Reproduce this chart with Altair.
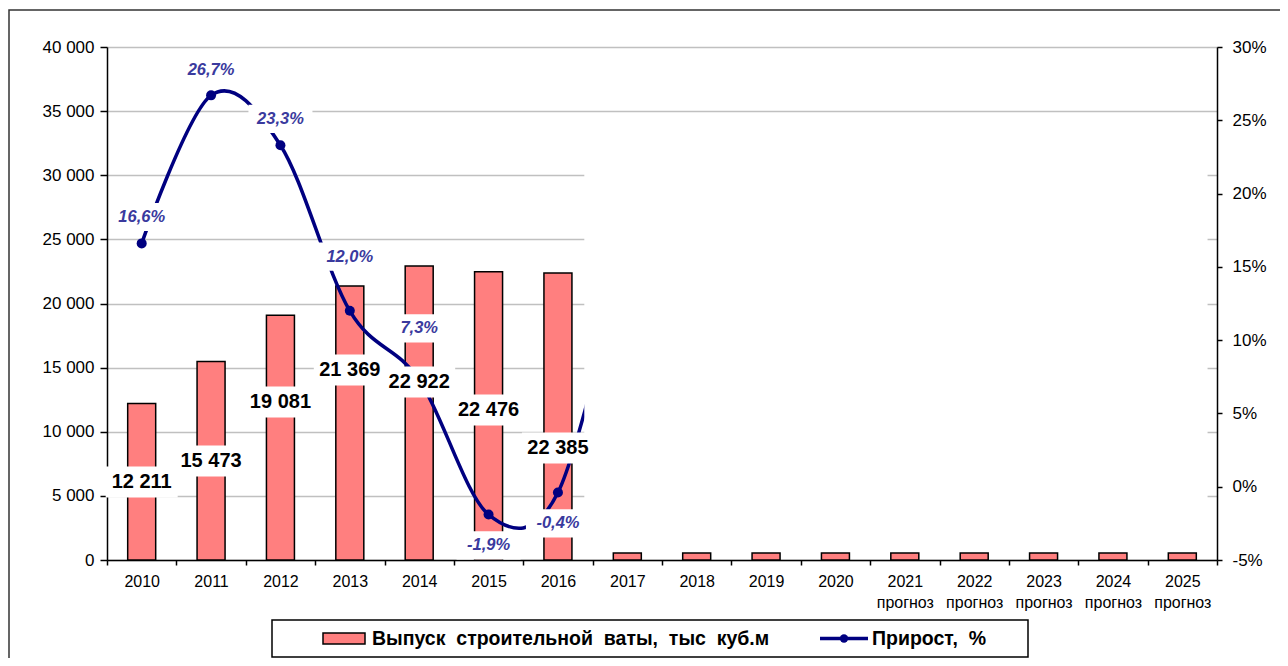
import altair as alt
import pandas as pd

# ---------------- data ----------------
years = ["2010", "2011", "2012", "2013", "2014", "2015", "2016", "2017",
         "2018", "2019", "2020", "2021", "2022", "2023", "2024", "2025"]
forecast_years = ["2021", "2022", "2023", "2024", "2025"]
volume = [12211, 15473, 19081, 21369, 22922, 22476, 22385,
          550, 550, 550, 550, 550, 550, 550, 550, 550]
labelled_years = ["2010", "2011", "2012", "2013", "2014", "2015", "2016"]
labelled_volume = [12211, 15473, 19081, 21369, 22922, 22476, 22385]
growth = [16.6, 26.7, 23.3, 12.0, 7.3, -1.9, -0.4]
# 2017 growth is hidden in the picture; estimated from the visible stub of the line
line_years = ["2010", "2011", "2012", "2013", "2014", "2015", "2016", "2017"]
line_growth = [16.6, 26.7, 23.3, 12.0, 7.3, -1.9, -0.4, 17.0]
# where the labels sit (data units)
volume_label_anchor = [6080, 7720, 12320, 14815, 13880, 11700, 8730]
growth_label_anchor = [18.4, 28.4, 25.1, 15.7, 10.8, -4.0, -2.5]

bar_series = "Выпуск\u00a0 строительной\u00a0 ваты,\u00a0 тыс\u00a0 куб.м"
line_series = "Прирост,\u00a0 %"

vol_ticks = [0, 5000, 10000, 15000, 20000, 25000, 30000, 35000, 40000]
pct_ticks = [-5, 0, 5, 10, 15, 20, 25, 30]

# ---------------- layout / style ----------------
W, H = 1110, 513
FONT = "Liberation Sans"
BAR_FILL = "#FF7F7F"
NAVY = "#000080"
PCT_COLOR = "#3A3A9E"
GRID = "#C0C0C0"

df_bars = pd.DataFrame({"year": years, "volume": volume})
df_vlab = pd.DataFrame({"year": labelled_years, "volume": labelled_volume,
                        "anchor": volume_label_anchor})
df_growth = pd.DataFrame({"year": labelled_years, "growth": growth,
                          "anchor": growth_label_anchor})
df_line = pd.DataFrame({"year": line_years, "growth": line_growth})

fc_expr = "indexof(" + str(forecast_years) + ", datum.value) >= 0 ? [datum.value, 'прогноз'] : datum.value"

x_enc = alt.X(
    "year:N",
    sort=years,
    scale=alt.Scale(domain=years, paddingInner=0, paddingOuter=0),
    axis=alt.Axis(
        title=None, labelAngle=0, tickBand="extent", grid=False,
        domainColor="black", domainWidth=1.5, tickColor="black", tickWidth=1.5,
        tickSize=5, labelPadding=8, labelFont=FONT, labelFontSize=16,
        labelColor="black", labelLineHeight=21, labelExpr=fc_expr,
    ),
)

vol_scale = alt.Scale(domain=[0, 40000], nice=False, zero=True)
pct_scale = alt.Scale(domain=[-5, 30], nice=False, zero=False)

# decorative white mask over the empty forecast area
mask = alt.Chart(pd.DataFrame({"k": [0]})).mark_rect(fill="white", stroke=None).encode(
    x=alt.value(W * 0.43), x2=alt.value(W * 0.9915),
    y=alt.value(H * 0.152), y2=alt.value(H * 0.973),
)

bars_actual = alt.Chart(df_bars).mark_bar(
    size=28, fill=BAR_FILL, stroke="black", strokeWidth=1.5
).encode(
    x=x_enc,
    y=alt.Y("volume:Q", scale=vol_scale, axis=alt.Axis(
        title=None, values=vol_ticks, format=",d", grid=True, gridColor=GRID,
        gridWidth=1.5, domainColor="black", domainWidth=1.5, tickColor="black",
        tickWidth=1.5, tickSize=7, labelPadding=6, labelFont=FONT,
        labelFontSize=17, labelColor="black", orient="left")),
)

line = alt.Chart(df_line).mark_line(
    color=NAVY, strokeWidth=3.5, interpolate="cardinal"
).encode(
    x=x_enc,
    y=alt.Y("growth:Q", scale=pct_scale, axis=alt.Axis(
        title=None, values=pct_ticks, labelExpr="datum.value + '%'", grid=False,
        domainColor="black", domainWidth=1.5, tickColor="black", tickWidth=1.5,
        tickSize=5, labelPadding=10, labelFont=FONT, labelFontSize=17,
        labelColor="black", orient="right")),
)

points = alt.Chart(df_line).mark_point(
    filled=True, color=NAVY, size=100, opacity=1
).encode(
    x=x_enc,
    y=alt.Y("growth:Q", scale=pct_scale, axis=None),
)

vbox = alt.Chart(df_vlab).mark_point(
    shape="M-1,-0.43H1V0.43H-1Z", filled=True, fill="white", stroke=None,
    size=5184, opacity=1
).encode(
    x=x_enc,
    y=alt.Y("anchor:Q", scale=vol_scale, axis=None),
)

vtext = alt.Chart(df_vlab).mark_text(
    font=FONT, fontSize=20, fontWeight="bold", color="black", baseline="middle"
).encode(
    x=x_enc,
    y=alt.Y("anchor:Q", scale=vol_scale, axis=None),
    text=alt.Text("volume:Q", format=",d"),
)

pbox = alt.Chart(df_growth).mark_point(
    shape="M-1,-0.44H1V0.44H-1Z", filled=True, fill="white", stroke=None,
    size=4096, opacity=1
).encode(
    x=x_enc,
    y=alt.Y("anchor:Q", scale=pct_scale, axis=None),
)

ptext = alt.Chart(df_growth).transform_calculate(
    lbl="format(datum.growth, '.1f') + '%'"
).mark_text(
    font=FONT, fontSize=16.5, fontWeight="bold", fontStyle="italic",
    color=PCT_COLOR, baseline="middle"
).encode(
    x=x_enc,
    y=alt.Y("anchor:Q", scale=pct_scale, axis=None),
    text="lbl:N",
)

# ---------------- hand-made legend and outer frame ----------------
one = pd.DataFrame({"k": [0]})
frame = alt.Chart(one).mark_rect(fill=None, stroke="#333333", strokeWidth=1.5).encode(
    x=alt.value(-98), x2=alt.value(W + 200), y=alt.value(-37), y2=alt.value(H + 200)
)
leg_box = alt.Chart(one).mark_rect(fill="white", stroke="black", strokeWidth=1.5).encode(
    x=alt.value(165), x2=alt.value(921), y=alt.value(573), y2=alt.value(610)
)
leg_bar = alt.Chart(one).mark_rect(fill=BAR_FILL, stroke="black", strokeWidth=1.5).encode(
    x=alt.value(216), x2=alt.value(258), y=alt.value(586), y2=alt.value(597)
)
leg_line = alt.Chart(one).mark_rule(color=NAVY, strokeWidth=3.5).encode(
    x=alt.value(713), x2=alt.value(761), y=alt.value(591.5)
)
leg_dot = alt.Chart(one).mark_point(filled=True, color=NAVY, size=70, opacity=1).encode(
    x=alt.value(737), y=alt.value(591.5)
)
leg_t1 = alt.Chart(pd.DataFrame({"t": [bar_series]})).mark_text(
    font=FONT, fontSize=19.5, fontWeight="bold", align="left", baseline="middle",
    color="black"
).encode(x=alt.value(265), y=alt.value(592), text="t:N")
leg_t2 = alt.Chart(pd.DataFrame({"t": [line_series]})).mark_text(
    font=FONT, fontSize=19.5, fontWeight="bold", align="left", baseline="middle",
    color="black"
).encode(x=alt.value(765), y=alt.value(592), text="t:N")

chart = alt.layer(
    bars_actual, line, points, mask, vbox, vtext, pbox, ptext,
    frame, leg_box, leg_bar, leg_line, leg_dot, leg_t1, leg_t2,
).resolve_scale(
    y="independent"
).properties(
    width=W, height=H,
    autosize=alt.AutoSizeParams(type="none"),
    padding={"left": 99, "top": 39, "right": 63, "bottom": 98},
).configure_view(
    stroke=None
).configure(
    locale={"number": {"decimal": ",", "thousands": " ", "grouping": [3],
                       "currency": ["", ""], "minus": "-"}}
)

chart.save("out.html", embed_options={"renderer": "svg", "actions": False})
